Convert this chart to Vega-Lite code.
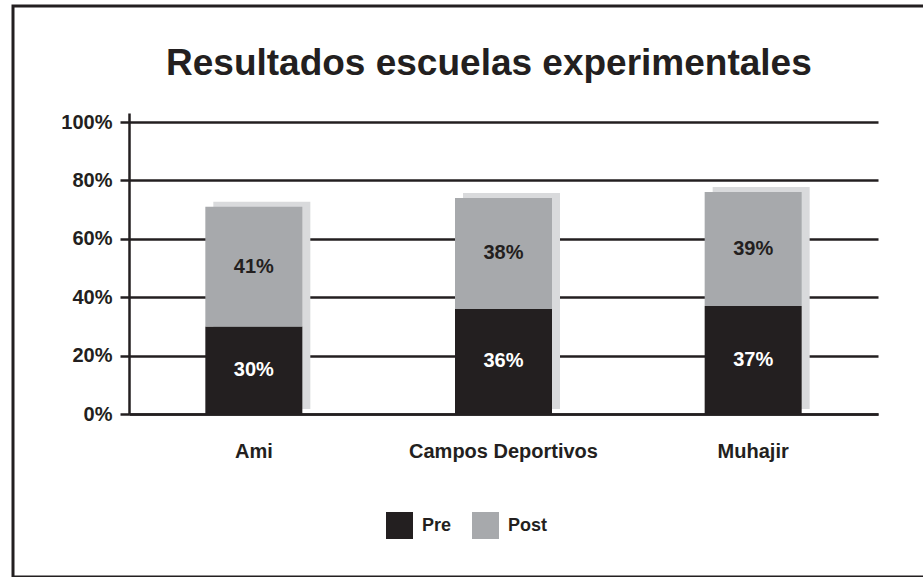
{
  "$schema": "https://vega.github.io/schema/vega-lite/v6.json",
  "autosize": "none",
  "padding": {"left": 13, "top": 6, "right": 0, "bottom": 0},
  "width": 935,
  "height": 571,
  "background": "white",
  "config": {
    "view": {"stroke": "#231f20", "strokeWidth": 3},
    "font": "Liberation Sans"
  },
  "title": {
    "text": "Resultados escuelas experimentales",
    "fontSize": 37,
    "fontWeight": "bold",
    "font": "Liberation Sans",
    "color": "#231f20",
    "anchor": "start",
    "frame": "group",
    "baseline": "alphabetic",
    "offset": -106,
    "dx": 153
  },
  "data": {
    "values": [
      {"school": "Ami", "phase": "Pre", "value": 0.30},
      {"school": "Ami", "phase": "Post", "value": 0.41},
      {"school": "Campos Deportivos", "phase": "Pre", "value": 0.36},
      {"school": "Campos Deportivos", "phase": "Post", "value": 0.38},
      {"school": "Muhajir", "phase": "Pre", "value": 0.37},
      {"school": "Muhajir", "phase": "Post", "value": 0.39}
    ]
  },
  "transform": [
    {"stack": "value", "groupby": ["school"], "sort": [{"field": "phase", "order": "descending"}], "as": ["v0", "v1"]},
    {"calculate": "(datum.v0 + datum.v1) / 2", "as": "mid"}
  ],
  "encoding": {
    "x": {
      "field": "school",
      "type": "nominal",
      "sort": ["Ami", "Campos Deportivos", "Muhajir"],
      "scale": {"range": [116, 865], "paddingInner": 0, "paddingOuter": 0},
      "axis": {
        "title": null,
        "orient": "bottom",
        "offset": -163,
        "labelAngle": 0,
        "labelLimit": 0,
        "labelFont": "Liberation Sans",
        "labelFontSize": 20,
        "labelFontWeight": "bold",
        "labelColor": "#231f20",
        "labelPadding": 27,
        "ticks": false,
        "domainColor": "#231f20",
        "domainWidth": 2.5,
        "grid": false
      }
    }
  },
  "layer": [
    {
      "transform": [
        {"aggregate": [{"op": "max", "field": "v1", "as": "total"}], "groupby": ["school"]}
      ],
      "mark": {"type": "bar", "width": 97, "color": "#d9dadc", "xOffset": 8, "yOffset": -5, "y2Offset": -5},
      "encoding": {
        "y": {
          "field": "total",
          "type": "quantitative",
          "scale": {"domain": [0, 1.031], "range": [408, 107], "nice": false, "zero": true},
          "axis": {
            "title": null,
            "orient": "left",
            "offset": -116,
            "values": [0, 0.2, 0.4, 0.6, 0.8, 1.0],
            "format": ".0%",
            "labelFont": "Liberation Sans",
            "labelFontSize": 20,
            "labelFontWeight": "bold",
            "labelColor": "#231f20",
            "labelPadding": 8,
            "tickSize": 9,
            "tickColor": "#231f20",
            "tickWidth": 2.5,
            "domainColor": "#231f20",
            "domainWidth": 2.5,
            "grid": true,
            "gridColor": "#231f20",
            "gridWidth": 2.5,
            "gridOpacity": 1
          }
        },
        "y2": {"datum": 0}
      }
    },
    {
      "mark": {"type": "bar", "width": 97},
      "encoding": {
        "y": {"field": "v1", "type": "quantitative"},
        "y2": {"field": "v0"},
        "color": {
          "field": "phase",
          "type": "nominal",
          "scale": {"domain": ["Pre", "Post"], "range": ["#231f20", "#a7a9ac"]},
          "legend": {
            "title": null,
            "orient": "none",
            "legendX": 373,
            "legendY": 506,
            "direction": "horizontal",
            "symbolType": "square",
            "symbolSize": 729,
            "symbolStrokeWidth": 0,
            "labelFont": "Liberation Sans",
            "labelFontSize": 18,
            "labelFontWeight": "bold",
            "labelColor": "#231f20",
            "labelOffset": 9,
            "columnPadding": 20
          }
        }
      }
    },
    {
      "mark": {"type": "text", "font": "Liberation Sans", "fontSize": 20, "fontWeight": "bold", "baseline": "middle", "align": "center"},
      "encoding": {
        "y": {"field": "mid", "type": "quantitative"},
        "text": {"field": "value", "type": "quantitative", "format": ".0%"},
        "color": {"condition": {"test": "datum.phase === 'Pre'", "value": "#ffffff"}, "value": "#231f20"}
      }
    }
  ]
}
